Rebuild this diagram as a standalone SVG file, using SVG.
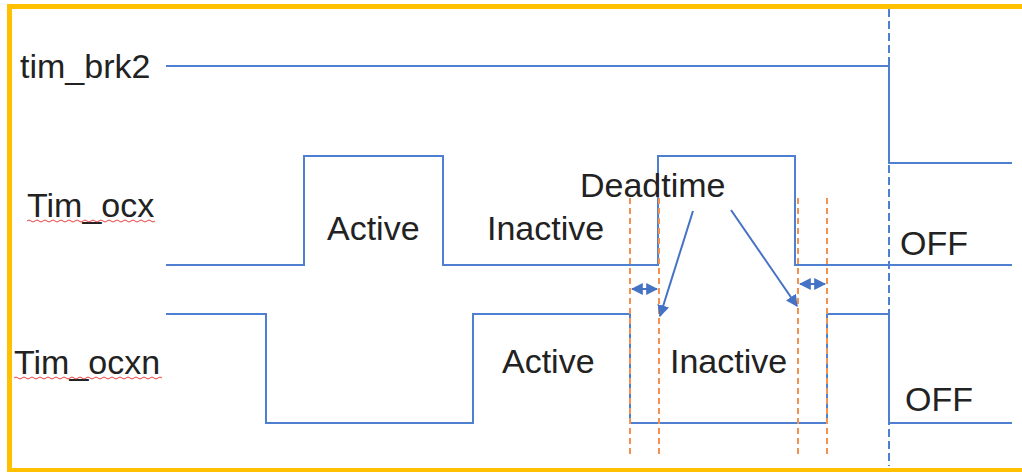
<svg xmlns="http://www.w3.org/2000/svg" width="1022" height="472" viewBox="0 0 1022 472">
<defs>
<marker id="ah" viewBox="0 0 10 10" refX="9" refY="5" markerWidth="6" markerHeight="6" orient="auto-start-reverse" markerUnits="strokeWidth">
<path d="M0,0 L10,5 L0,10 z" fill="#4472C4"/>
</marker>
<style>
.t{font-family:"Liberation Sans",Arial,sans-serif;font-size:34px;fill:#222}
.w{fill:none;stroke:#4F7FD0;stroke-width:2}
.od{fill:none;stroke:#F29150;stroke-width:2;stroke-dasharray:6 4}
.bd{fill:none;stroke:#4F7FD0;stroke-width:2;stroke-dasharray:8 4}
.sq{fill:none;stroke:#E84040;stroke-width:1}
.ar{fill:none;stroke:#4472C4;stroke-width:2}
</style>
</defs>
<rect width="1022" height="472" fill="#fff"/>
<g id="frame" fill="#FFC000">
<rect x="7" y="4" width="1015" height="5"/>
<rect x="7" y="4" width="5" height="468"/>
<rect x="7" y="468" width="1015" height="4"/>
</g>
<g id="sig-brk2">
<text class="t" x="20" y="78">tim_brk2</text>
<path class="w" d="M166,66 H889 V163 H1012"/>
</g>
<g id="sig-ocx">
<text class="t" x="27" y="217" font-size="33">Tim_ocx</text>
<path class="sq" d="M27,221 q2,-2 4,0 t4,0 t4,0 t4,0 t4,0 t4,0 t4,0 t4,0 t4,0 t4,0 t4,0 t4,0 t4,0 t4,0 t4,0 t4,0 t4,0 t4,0 t4,0 t4,0 t4,0 t4,0 t4,0 t4,0 t4,0 t4,0 t4,0 t4,0 t4,0 t4,0 t4,0 t4,0"/>
<path class="w" d="M166,265 H304 V156 H443 V265 H658 V156 H795 V265 H1012"/>
<text class="t" x="327" y="240">Active</text>
<text class="t" x="487" y="240">Inactive</text>
<text class="t" x="900" y="255" font-size="32">OFF</text>
</g>
<g id="sig-ocxn">
<text class="t" x="14" y="374" font-size="33">Tim_ocxn</text>
<path class="sq" d="M14,378 q2,-2 4,0 t4,0 t4,0 t4,0 t4,0 t4,0 t4,0 t4,0 t4,0 t4,0 t4,0 t4,0 t4,0 t4,0 t4,0 t4,0 t4,0 t4,0 t4,0 t4,0 t4,0 t4,0 t4,0 t4,0 t4,0 t4,0 t4,0 t4,0 t4,0 t4,0 t4,0 t4,0 t4,0 t4,0 t4,0 t4,0 t4,0"/>
<path class="w" d="M166,314 H266 V423 H473 V314 H630 V423 H827 V314 H889 V423 H1012"/>
<text class="t" x="502" y="373">Active</text>
<text class="t" x="670" y="373">Inactive</text>
<text class="t" x="905" y="411" font-size="32">OFF</text>
</g>
<g id="guides">
<line class="bd" x1="889" y1="9" x2="889" y2="466"/>
<line class="od" x1="630" y1="198" x2="630" y2="458"/>
<line class="od" x1="659" y1="198" x2="659" y2="458"/>
<line class="od" x1="798" y1="198" x2="798" y2="458"/>
<line class="od" x1="827" y1="198" x2="827" y2="458"/>
</g>
<g id="deadtime">
<text class="t" x="580" y="197">Deadtime</text>
</g>
<g id="connectors">
<line class="ar" x1="632" y1="289" x2="657" y2="289" marker-start="url(#ah)" marker-end="url(#ah)"/>
<line class="ar" x1="800" y1="284" x2="825" y2="284" marker-start="url(#ah)" marker-end="url(#ah)"/>
<line class="ar" x1="693" y1="211" x2="660" y2="316" marker-end="url(#ah)"/>
<line class="ar" x1="731" y1="210" x2="797" y2="306" marker-end="url(#ah)"/>
</g>
</svg>
